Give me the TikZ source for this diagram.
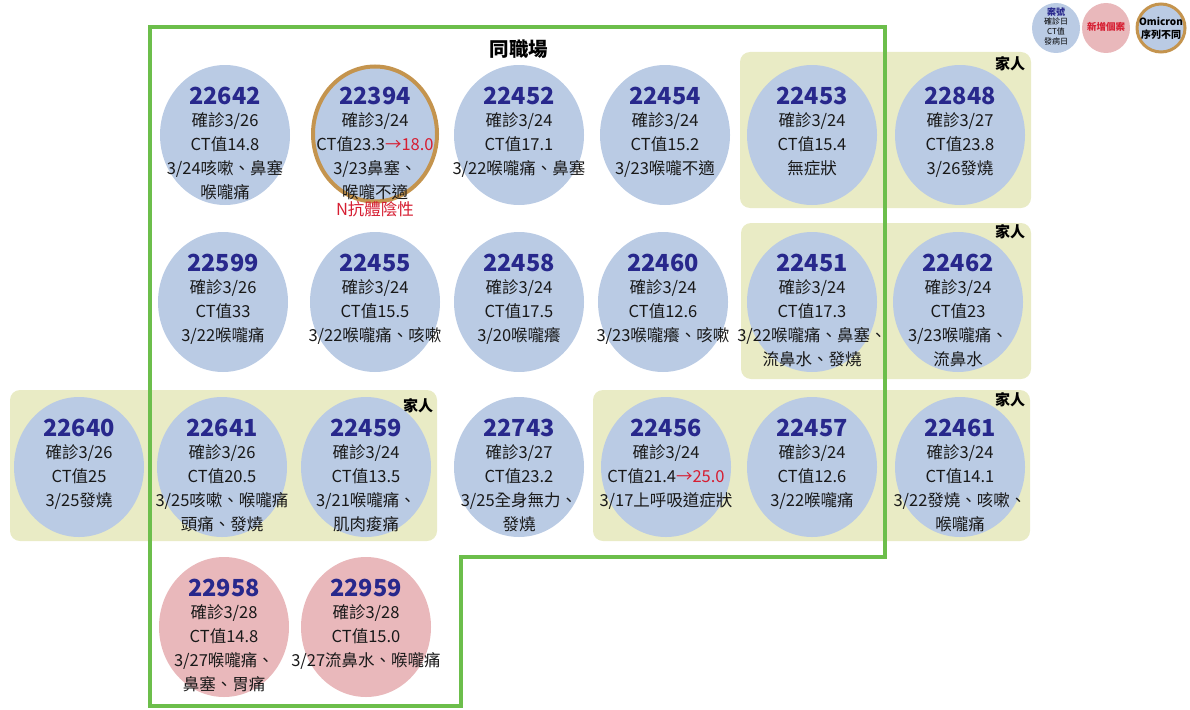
\documentclass[tikz,border=0pt]{standalone}
\usepackage{fontspec}
\setmainfont{Noto Sans CJK TC}
\usetikzlibrary{shapes.geometric,calc}
\definecolor{cblue}{RGB}{186,203,228}
\definecolor{cpink}{RGB}{233,184,187}
\definecolor{cfam}{RGB}{233,235,197}
\definecolor{cgreen}{RGB}{108,190,75}
\definecolor{corange}{RGB}{196,148,78}
\definecolor{cnavy}{RGB}{40,40,140}
\definecolor{cred}{RGB}{214,30,50}
\newcommand\rd[1]{\textcolor{cred}{#1}}
\newcommand\casenode[5]{%
  \node[#4] (c#1) at (#2,#3) {};
  \node[numtxt] (n#1) at ($(c#1.north)+(0,31)$) {#1};
  \node[bodytxt] (b#1) at ($(c#1.north)+(0,48)$) {#5};
}
\begin{document}
\begin{tikzpicture}[x=1pt,y=-1pt,
  case/.style={ellipse, fill=cblue, minimum width=130pt, minimum height=140pt, inner sep=0pt},
  newcase/.style={case, fill=cpink},
  omi/.style={case, draw=corange, line width=4pt, minimum width=124pt, minimum height=135pt},
  numtxt/.style={font=\bfseries\fontsize{23.5}{23.5}\selectfont, text=cnavy, inner sep=0pt},
  bodytxt/.style={font=\fontsize{16.5}{24}\selectfont, align=center, inner sep=0pt, anchor=north, text=black!90},
  family/.style={fill=cfam, rounded corners=10pt},
  famlabel/.style={font=\bfseries\fontsize{15}{15}\selectfont, inner sep=0pt},
  boundary/.style={draw=cgreen, line width=4pt},
  lgtxt/.style={inner sep=0pt, align=center}
]
\useasboundingbox (0,0) rectangle (1190,709);
% family groups
\path[family] (740,52) rectangle (1031,208);
\path[family] (741,223) rectangle (1031,379);
\path[family] (10,390) rectangle (437,541);
\path[family] (593,390) rectangle (1030,541);
\node[famlabel] (f1) at (1010,64) {家人};
\node[famlabel] (f2) at (1010,232) {家人};
\node[famlabel] (f3) at (418,406) {家人};
\node[famlabel] (f4) at (1010,400) {家人};
% workplace boundary
\draw[boundary] (150,27) -- (885,27) -- (885,557) -- (461,557) -- (461,706) -- (150,706) -- cycle;
\node[font=\bfseries\fontsize{19.5}{19.5}\selectfont, inner sep=0pt] (wp) at (519,49) {同職場};
% row 1
\casenode{22642}{225}{135}{case}{確診3/26\\CT值14.8\\3/24咳嗽、鼻塞\\喉嚨痛}
\casenode{22394}{375}{134}{omi}{確診3/24\\CT值23.3\rd{→18.0}\\3/23鼻塞、\\喉嚨不適}
\node[font=\fontsize{16.5}{16.5}\selectfont, text=cred, inner sep=0pt] (ab) at (375,209) {N抗體陰性};
\casenode{22452}{519}{135}{case}{確診3/24\\CT值17.1\\3/22喉嚨痛、鼻塞}
\casenode{22454}{665}{135}{case}{確診3/24\\CT值15.2\\3/23喉嚨不適}
\casenode{22453}{812}{135}{case}{確診3/24\\CT值15.4\\無症狀}
\casenode{22848}{960}{135}{case}{確診3/27\\CT值23.8\\3/26發燒}
% row 2
\casenode{22599}{223}{302}{case}{確診3/26\\CT值33\\3/22喉嚨痛}
\casenode{22455}{375}{302}{case}{確診3/24\\CT值15.5\\3/22喉嚨痛、咳嗽}
\casenode{22458}{519}{302}{case}{確診3/24\\CT值17.5\\3/20喉嚨癢}
\casenode{22460}{663}{302}{case}{確診3/24\\CT值12.6\\3/23喉嚨癢、咳嗽}
\casenode{22451}{812}{302}{case}{確診3/24\\CT值17.3\\3/22喉嚨痛、鼻塞、\\流鼻水、發燒}
\casenode{22462}{958}{302}{case}{確診3/24\\CT值23\\3/23喉嚨痛、\\流鼻水}
% row 3
\casenode{22640}{79}{467}{case}{確診3/26\\CT值25\\3/25發燒}
\casenode{22641}{222}{467}{case}{確診3/26\\CT值20.5\\3/25咳嗽、喉嚨痛\\頭痛、發燒}
\casenode{22459}{366}{467}{case}{確診3/24\\CT值13.5\\3/21喉嚨痛、\\肌肉痠痛}
\casenode{22743}{519}{467}{case}{確診3/27\\CT值23.2\\3/25全身無力、\\發燒}
\casenode{22456}{666}{467}{case}{確診3/24\\CT值21.4\rd{→25.0}\\3/17上呼吸道症狀}
\casenode{22457}{812}{467}{case}{確診3/24\\CT值12.6\\3/22喉嚨痛}
\casenode{22461}{960}{467}{case}{確診3/24\\CT值14.1\\3/22發燒、咳嗽、\\喉嚨痛}
% row 4
\casenode{22958}{224}{627}{newcase}{確診3/28\\CT值14.8\\3/27喉嚨痛、\\鼻塞、胃痛}
\casenode{22959}{366}{627}{newcase}{確診3/28\\CT值15.0\\3/27流鼻水、喉嚨痛}
% legend
\node[ellipse, fill=cblue, minimum width=48pt, minimum height=50pt, inner sep=0pt] (lg1) at (1056,28) {};
\node[lgtxt, font=\bfseries\fontsize{9}{9}\selectfont, text=cnavy] (lg1a) at (1056,12) {案號};
\node[lgtxt, font=\fontsize{8}{10}\selectfont, anchor=north] (lg1b) at (1056,17.5) {確診日\\CT值\\發病日};
\node[ellipse, fill=cpink, minimum width=48pt, minimum height=50pt, inner sep=0pt] (lg2) at (1106,28) {};
\node[lgtxt, font=\bfseries\fontsize{9.5}{9.5}\selectfont, text=cred] (lg2a) at (1106,27) {新增個案};
\node[ellipse, fill=cblue, draw=corange, line width=3pt, minimum width=48pt, minimum height=48pt, inner sep=0pt] (lg3) at (1161,28) {};
\node[lgtxt, font=\bfseries\fontsize{10}{13}\selectfont] (lg3a) at (1161,28) {Omicron\\序列不同};
\end{tikzpicture}
\end{document}
